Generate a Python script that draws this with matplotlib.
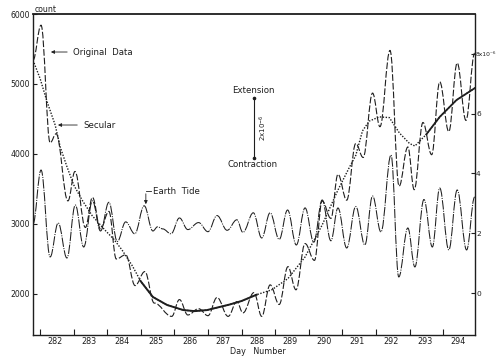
import numpy as np
import matplotlib
matplotlib.use('Agg')
import matplotlib.pyplot as plt
from matplotlib.path import Path
from matplotlib.patches import PathPatch

# secular trend (day, count)
secular_day = [281.79, 282.0, 282.2, 282.45, 282.6, 282.8, 283.0, 283.25, 283.55,
               283.93, 284.2, 284.44, 284.75, 285.0, 285.36, 285.78, 286.26, 286.6,
               286.97, 287.65, 288.0, 288.45, 288.9, 289.38, 289.89, 290.4, 290.87,
               291.2, 291.4, 291.6, 291.8, 292.1, 292.4, 292.7, 293.0, 293.16,
               293.5, 293.9, 294.4, 294.95]
secular_cnt = [5340, 5080, 4760, 4414, 4100, 3820, 3560, 3343, 3120,
               2914, 2780, 2629, 2400, 2180, 1957, 1843, 1771, 1755,
               1770, 1850, 1900, 1990, 2060, 2220, 2529, 2986, 3486,
               3800, 3980, 4330, 4470, 4530, 4520, 4300, 4150, 4114,
               4280, 4530, 4771, 4943]

# earth tide, peaks and troughs (day, count)
tide_day = [281.79, 282.03, 282.3, 282.54, 282.8, 283.05, 283.3, 283.56, 283.8,
            284.05, 284.3, 284.55, 284.82, 285.1, 285.36, 285.5, 285.65, 285.9,
            286.15, 286.4, 286.72, 287.0, 287.27, 287.57, 287.86, 288.04, 288.35,
            288.6, 288.85, 289.12, 289.37, 289.63, 289.89, 290.15, 290.4, 290.66,
            290.87, 291.13, 291.4, 291.67, 291.9, 292.15, 292.45, 292.68, 292.95,
            293.16, 293.43, 293.68, 293.9, 294.17, 294.42, 294.7, 294.94]
tide_cnt = [3000, 3771, 2529, 3014, 2514, 3271, 2671, 3330, 2900,
            3310, 2750, 3030, 2860, 3260, 2900, 2960, 2930, 2860,
            3086, 2920, 3020, 2890, 3120, 2910, 3060, 2880, 3160,
            2800, 3160, 2780, 3200, 2700, 3230, 2740, 3343, 2760,
            3229, 2657, 3250, 2700, 3400, 2886, 3986, 2243, 2943,
            2386, 3350, 2671, 3514, 2629, 3486, 2629, 3386]

# original data, peaks and troughs (day, count)
orig_day = [281.79, 282.03, 282.3, 282.48, 282.83, 283.04, 283.35, 283.56, 283.8,
            284.05, 284.27, 284.55, 284.83, 285.12, 285.4, 285.92, 286.15, 286.4,
            286.72, 287.0, 287.27, 287.6, 287.86, 288.04, 288.37, 288.6, 288.85,
            289.12, 289.38, 289.62, 289.89, 290.17, 290.4, 290.66, 290.87, 291.13,
            291.4, 291.62, 291.9, 292.12, 292.42, 292.69, 292.95, 293.14, 293.4,
            293.66, 293.9, 294.17, 294.42, 294.68, 294.94]
orig_cnt = [5340, 5840, 4160, 4290, 3330, 3750, 2950, 3380, 2930,
            3180, 2500, 2560, 2120, 2320, 1870, 1680, 1920, 1700,
            1790, 1690, 1950, 1680, 1890, 1730, 2020, 1680, 2130,
            1850, 2390, 2060, 2720, 2480, 3330, 3080, 3710, 3340,
            4150, 3950, 4870, 4390, 5480, 3540, 4100, 3490, 4450,
            3990, 5030, 4320, 5300, 4480, 5440]

days = list(range(282, 295))
left_ticks = [2000, 3000, 4000, 5000, 6000]
right_ticks = [0, 2, 4, 6, 8]
right_labels = ['0', '2', '4', '6', '8x10\u207b\u2076']

ink = '#1e1e1e'
fs = 6.2


def smooth_path(xs, ys, k=0.38):
    # cubic pieces with flat tangents at every peak / trough
    verts = [(xs[0], ys[0])]
    codes = [Path.MOVETO]
    for i in range(1, len(xs)):
        dx = (xs[i] - xs[i - 1]) * k
        verts += [(xs[i - 1] + dx, ys[i - 1]), (xs[i] - dx, ys[i]), (xs[i], ys[i])]
        codes += [Path.CURVE4] * 3
    return Path(verts, codes)


fig = plt.figure(figsize=(4.96, 3.56), dpi=100)
ax = fig.add_axes([33 / 496, 1 - 335 / 356, 442 / 496, 321 / 356])
ax.set_xlim(281.79, 294.95)
ax.set_ylim(1414, 6000)

ax.add_patch(PathPatch(smooth_path(orig_day, orig_cnt), fill=False, edgecolor=ink,
                       lw=0.8, linestyle=(0, (6, 1.8))))
ax.add_patch(PathPatch(smooth_path(tide_day, tide_cnt), fill=False, edgecolor=ink,
                       lw=0.75, linestyle=(0, (9, 1.2, 1, 1.2))))

sd = np.array(secular_day)
sc = np.array(secular_cnt)
ax.plot(sd, sc, color=ink, lw=1.0, linestyle=(0, (1, 1.1)))
solid = (sd >= 284.9) & (sd <= 288.5)
ax.plot(sd[solid], sc[solid], color=ink, lw=1.4)
solid2 = sd >= 293.4
ax.plot(sd[solid2], sc[solid2], color=ink, lw=1.3)

# axes styling
for s in ax.spines.values():
    s.set_linewidth(1.0)
    s.set_color(ink)
ax.spines['top'].set_linewidth(1.3)

ax.set_xticks(days)
ax.set_xticklabels([])
ax.set_xticks([d + 0.45 for d in days], minor=True)
ax.set_xticklabels([str(d) for d in days], minor=True, fontsize=fs - 0.4)
ax.tick_params(axis='x', which='major', direction='in', length=4, width=0.8, colors=ink)
ax.tick_params(axis='x', which='minor', length=0, pad=1.5, labelcolor=ink)
ax.set_yticks(left_ticks)
ax.set_yticklabels([str(v) for v in left_ticks], fontsize=fs - 0.6)
ax.tick_params(axis='y', direction='in', length=3, width=0.8, pad=2, colors=ink)

ax2 = ax.twinx()
ax2.set_ylim((1414 - 2014) / 427, (6000 - 2014) / 427)
ax2.set_yticks(right_ticks)
ax2.set_yticklabels(right_labels, fontsize=fs - 0.8)
ax2.tick_params(axis='y', direction='in', length=3, width=0.8, pad=0.8, colors=ink)
ax2.get_yticklabels()[-1].set_fontsize(4.3)
for s in ax2.spines.values():
    s.set_visible(False)

# labels and notes
ax.text(0.004, 1.0, 'count', transform=ax.transAxes, fontsize=fs - 0.6,
        va='bottom', ha='left', color=ink)
fig.text(258 / 496, 1 - 351 / 356, 'Day   Number', fontsize=fs - 0.4, ha='center',
         va='center', color=ink)

arrow = dict(arrowstyle='-|>', lw=0.6, color=ink, mutation_scale=5)
ax.annotate('', xy=(282.24, 5457), xytext=(282.89, 5457), arrowprops=arrow)
ax.text(282.98, 5457, 'Original  Data', fontsize=fs, va='center', color=ink)
ax.annotate('', xy=(282.45, 4414), xytext=(283.19, 4414), arrowprops=arrow)
ax.text(283.28, 4414, 'Secular', fontsize=fs, va='center', color=ink)

ax.plot([285.15, 285.3], [3471, 3471], color=ink, lw=0.6)
ax.annotate('', xy=(285.15, 3243), xytext=(285.15, 3471), arrowprops=arrow)
ax.text(285.36, 3471, 'Earth  Tide', fontsize=fs, va='center', color=ink)

ax.text(288.34, 4914, 'Extension', fontsize=fs, ha='center', va='center', color=ink)
ax.text(288.34, 3843, 'Contraction', fontsize=fs, ha='center', va='center', color=ink)
ax.plot([288.37, 288.37], [3943, 4800], color=ink, lw=0.8)
ax.plot([288.37, 288.37], [3943, 4800], 'o', color=ink, ms=1.6)
ax.text(288.64, 4371, '2x10$^{-6}$', fontsize=fs - 1.2, rotation=90, ha='center',
        va='center', color=ink)

fig.savefig('out.png', dpi=100, facecolor='white')
